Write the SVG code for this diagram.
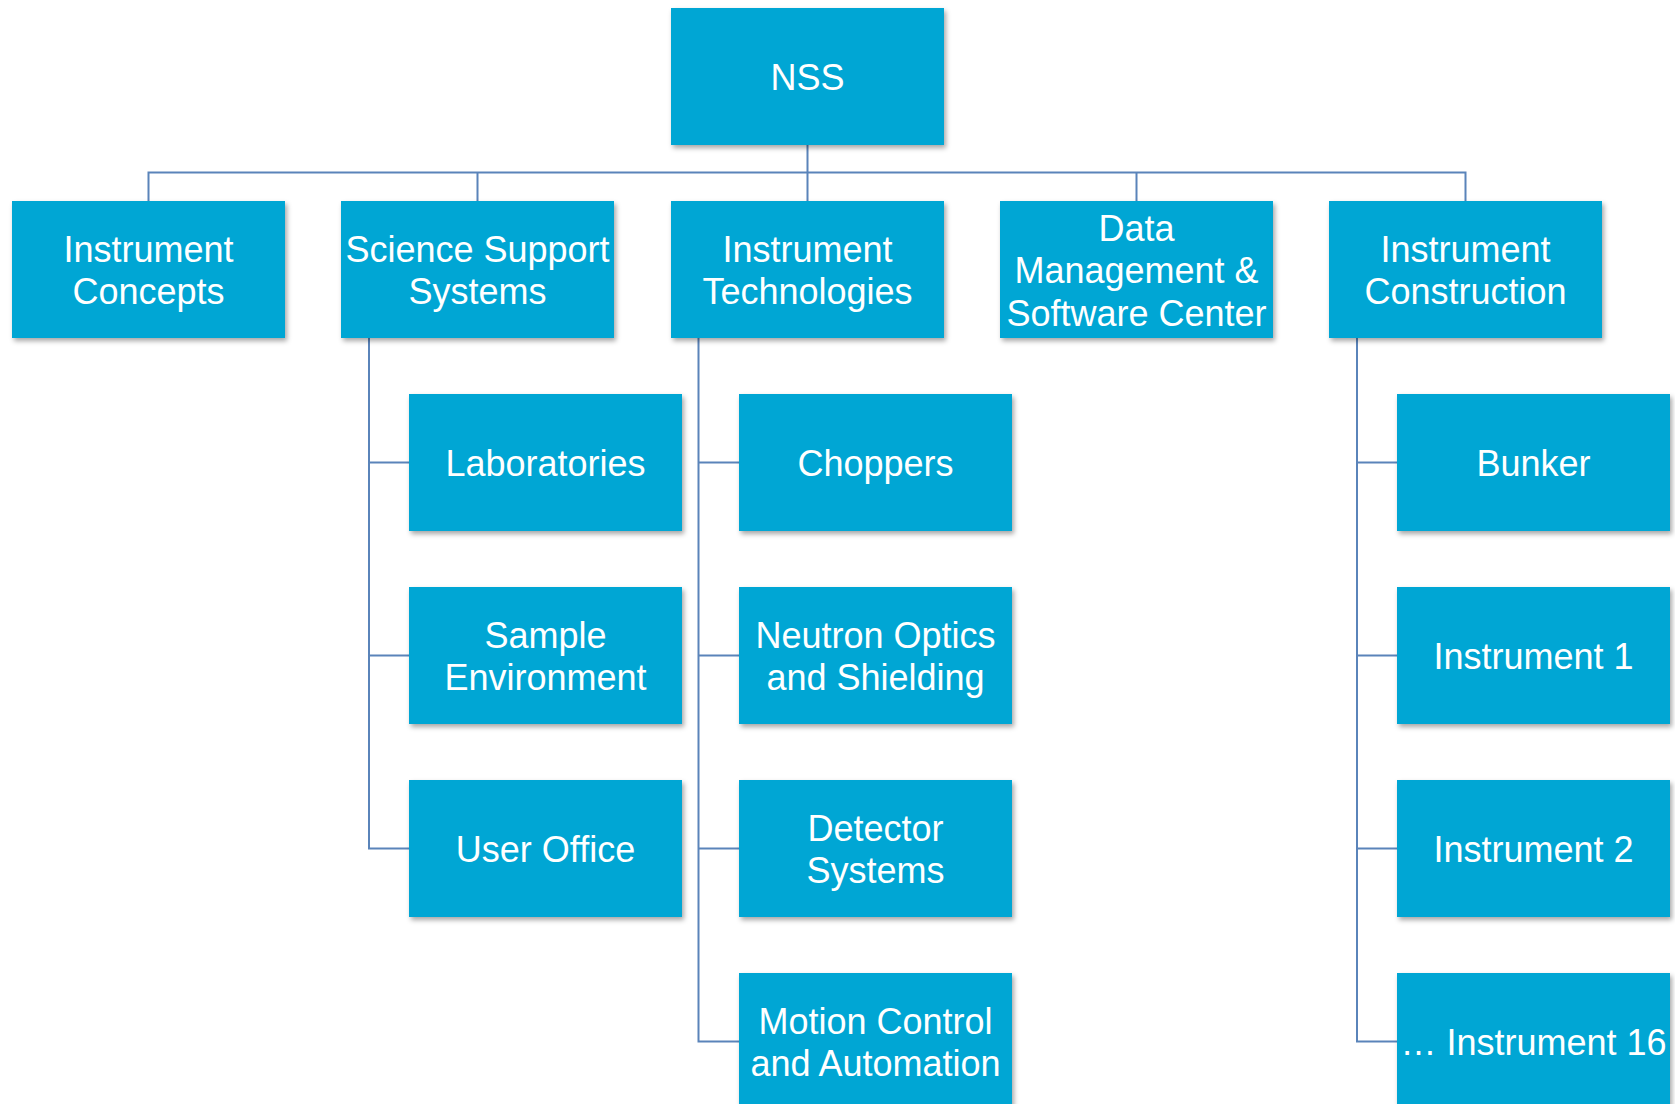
<svg xmlns="http://www.w3.org/2000/svg" width="1675" height="1104" viewBox="0 0 1675 1104">
<style>
.box{fill:#03A6D4;filter:url(#sh)}
.t{font-family:"Liberation Sans",Arial,sans-serif;font-size:36px;fill:#ffffff;text-anchor:middle}
.c{fill:none;stroke:#5A84BA;stroke-width:2}
</style>
<defs>
<filter id="sh" x="-10%" y="-10%" width="120%" height="130%">
<feDropShadow dx="2" dy="3" stdDeviation="2.5" flood-color="#000" flood-opacity="0.35"/>
</filter>
</defs>
<rect width="1675" height="1104" fill="#ffffff"/>
<g id="connectors">
<path class="c" d="M807.5 145 V201 M148.5 201 V172.5 H1465.5 V201 M477.5 172.5 V201 M1136.5 172.5 V201"/>
<path class="c" d="M369 338 V848.5 H409 M369 462.5 H409 M369 655.5 H409"/>
<path class="c" d="M698.5 338 V1041.5 H739 M698.5 462.5 H739 M698.5 655.5 H739 M698.5 848.5 H739"/>
<path class="c" d="M1357 338 V1041.5 H1397 M1357 462.5 H1397 M1357 655.5 H1397 M1357 848.5 H1397"/>
</g>
<g id="nss"><rect class="box" x="671" y="8" width="273" height="137"/><text class="t" x="807.5" y="90">NSS</text></g>
<g id="instrument-concepts"><rect class="box" x="12" y="201" width="273" height="137"/><text class="t" x="148.5" y="261.75">Instrument</text><text class="t" x="148.5" y="304.25">Concepts</text></g>
<g id="science-support"><rect class="box" x="341" y="201" width="273" height="137"/><text class="t" x="477.5" y="261.75">Science Support</text><text class="t" x="477.5" y="304.25">Systems</text></g>
<g id="instrument-technologies"><rect class="box" x="671" y="201" width="273" height="137"/><text class="t" x="807.5" y="261.75">Instrument</text><text class="t" x="807.5" y="304.25">Technologies</text></g>
<g id="data-management"><rect class="box" x="1000" y="201" width="273" height="137"/><text class="t" x="1136.5" y="240.5">Data</text><text class="t" x="1136.5" y="283">Management &amp;</text><text class="t" x="1136.5" y="325.5">Software Center</text></g>
<g id="instrument-construction"><rect class="box" x="1329" y="201" width="273" height="137"/><text class="t" x="1465.5" y="261.75">Instrument</text><text class="t" x="1465.5" y="304.25">Construction</text></g>
<g id="laboratories"><rect class="box" x="409" y="394" width="273" height="137"/><text class="t" x="545.5" y="476">Laboratories</text></g>
<g id="sample-environment"><rect class="box" x="409" y="587" width="273" height="137"/><text class="t" x="545.5" y="647.75">Sample</text><text class="t" x="545.5" y="690.25">Environment</text></g>
<g id="user-office"><rect class="box" x="409" y="780" width="273" height="137"/><text class="t" x="545.5" y="862">User Office</text></g>
<g id="choppers"><rect class="box" x="739" y="394" width="273" height="137"/><text class="t" x="875.5" y="476">Choppers</text></g>
<g id="neutron-optics"><rect class="box" x="739" y="587" width="273" height="137"/><text class="t" x="875.5" y="647.75">Neutron Optics</text><text class="t" x="875.5" y="690.25">and Shielding</text></g>
<g id="detector-systems"><rect class="box" x="739" y="780" width="273" height="137"/><text class="t" x="875.5" y="840.75">Detector</text><text class="t" x="875.5" y="883.25">Systems</text></g>
<g id="motion-control"><rect class="box" x="739" y="973" width="273" height="137"/><text class="t" x="875.5" y="1033.75">Motion Control</text><text class="t" x="875.5" y="1076.25">and Automation</text></g>
<g id="bunker"><rect class="box" x="1397" y="394" width="273" height="137"/><text class="t" x="1533.5" y="476">Bunker</text></g>
<g id="instrument-1"><rect class="box" x="1397" y="587" width="273" height="137"/><text class="t" x="1533.5" y="669">Instrument 1</text></g>
<g id="instrument-2"><rect class="box" x="1397" y="780" width="273" height="137"/><text class="t" x="1533.5" y="862">Instrument 2</text></g>
<g id="instrument-16"><rect class="box" x="1397" y="973" width="273" height="137"/><text class="t" x="1533.5" y="1055">… Instrument 16</text></g>
</svg>
